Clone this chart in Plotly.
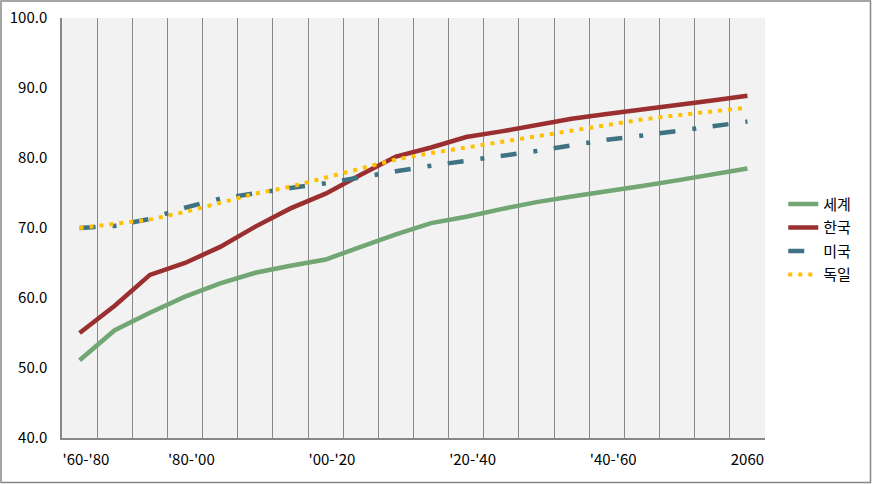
import plotly.graph_objects as go

# ---- data ----
n_points = 20
world = [51.1, 55.4, 57.9, 60.2, 62.1, 63.6, 64.6, 65.5, 67.3, 69.1,
         70.7, 71.6, 72.7, 73.7, 74.5, 75.2, 76.0, 76.8, 77.6, 78.5]
korea = [55.0, 58.9, 63.3, 65.0, 67.3, 70.2, 72.8, 74.9, 77.6, 80.2,
         81.5, 83.0, 83.8, 84.7, 85.6, 86.3, 86.9, 87.6, 88.2, 88.9]
usa = [70.0, 70.3, 71.3, 72.9, 74.2, 75.0, 75.7, 76.4, 77.3, 78.1,
       78.9, 79.6, 80.2, 81.0, 81.8, 82.6, 83.2, 83.9, 84.6, 85.2]
germany = [70.0, 70.6, 71.2, 72.3, 73.6, 74.9, 75.9, 77.2, 78.6, 79.8,
           80.7, 81.5, 82.4, 83.2, 84.0, 84.8, 85.5, 86.1, 86.7, 87.2]
series_names = ["세계", "한국", "미국", "독일"]
tick_labels = ["'60-'80", "'80-'00", "'00-'20", "'20-'40", "'40-'60", "2060"]
tick_index = [0, 3, 7, 11, 15, 19]
y_ticks = [40, 50, 60, 70, 80, 90, 100]

x = list(range(n_points))

# ---- style ----
colors = ["#72A673", "#9B2F2F", "#3F7282", "#FFC000"]
dashes = ["solid", "solid", "16px,17px,4px,16.5px", "4px,6px"]
widths = [4.5, 4.5, 4.5, 4]

fig = go.Figure()
for name, vals, c, d, w in zip(series_names, [world, korea, usa, germany], colors, dashes, widths):
    fig.add_trace(go.Scatter(
        x=x, y=vals, name=name, mode="lines", legendgroup=name,
        line=dict(color=c, dash=d, width=w),
    ))

tick_font = dict(family="Noto Sans CJK KR", size=15, color="#000000")
label_pos = [i + (0.18 if lab.startswith("'") else 0) for i, lab in zip(tick_index, tick_labels)]

fig.update_layout(
    width=872, height=484,
    margin=dict(l=62, r=107, t=18, b=46),
    paper_bgcolor="#FFFFFF",
    plot_bgcolor="#F2F2F2",
    showlegend=True,
    legend=dict(
        x=1.026, xanchor="left", y=0.473, yanchor="middle",
        font=dict(family="Noto Sans CJK KR", size=15, color="#000000"),
        bgcolor="rgba(0,0,0,0)", traceorder="grouped", tracegroupgap=1,
    ),
    xaxis=dict(
        range=[-0.5, n_points - 0.5], automargin=False,
        tickvals=label_pos, ticktext=tick_labels,
        showgrid=False, zeroline=False,
        showline=True, linecolor="#878787", linewidth=1.5,
        ticks="", tickfont=tick_font, ticklabelstandoff=7,
        minor=dict(tick0=0.5, dtick=1, showgrid=True, gridcolor="#878787", gridwidth=1.2, ticks=""),
    ),
    yaxis=dict(
        range=[40, 100], tickvals=y_ticks, tickformat=".1f", automargin=False,
        showgrid=False, zeroline=False,
        showline=True, linecolor="#878787", linewidth=1.5,
        ticks="", tickfont=tick_font, ticklabelstandoff=10,
    ),
    shapes=[dict(
        type="rect", xref="paper", yref="paper",
        x0=(1 - 62) / 703, x1=(870.5 - 62) / 703,
        y0=(438 - 482.5) / 420, y1=(438 - 1) / 420,
        line=dict(color="#878787", width=1.5), fillcolor="rgba(0,0,0,0)", layer="above",
    )],
)

fig.write_html("out.html")
